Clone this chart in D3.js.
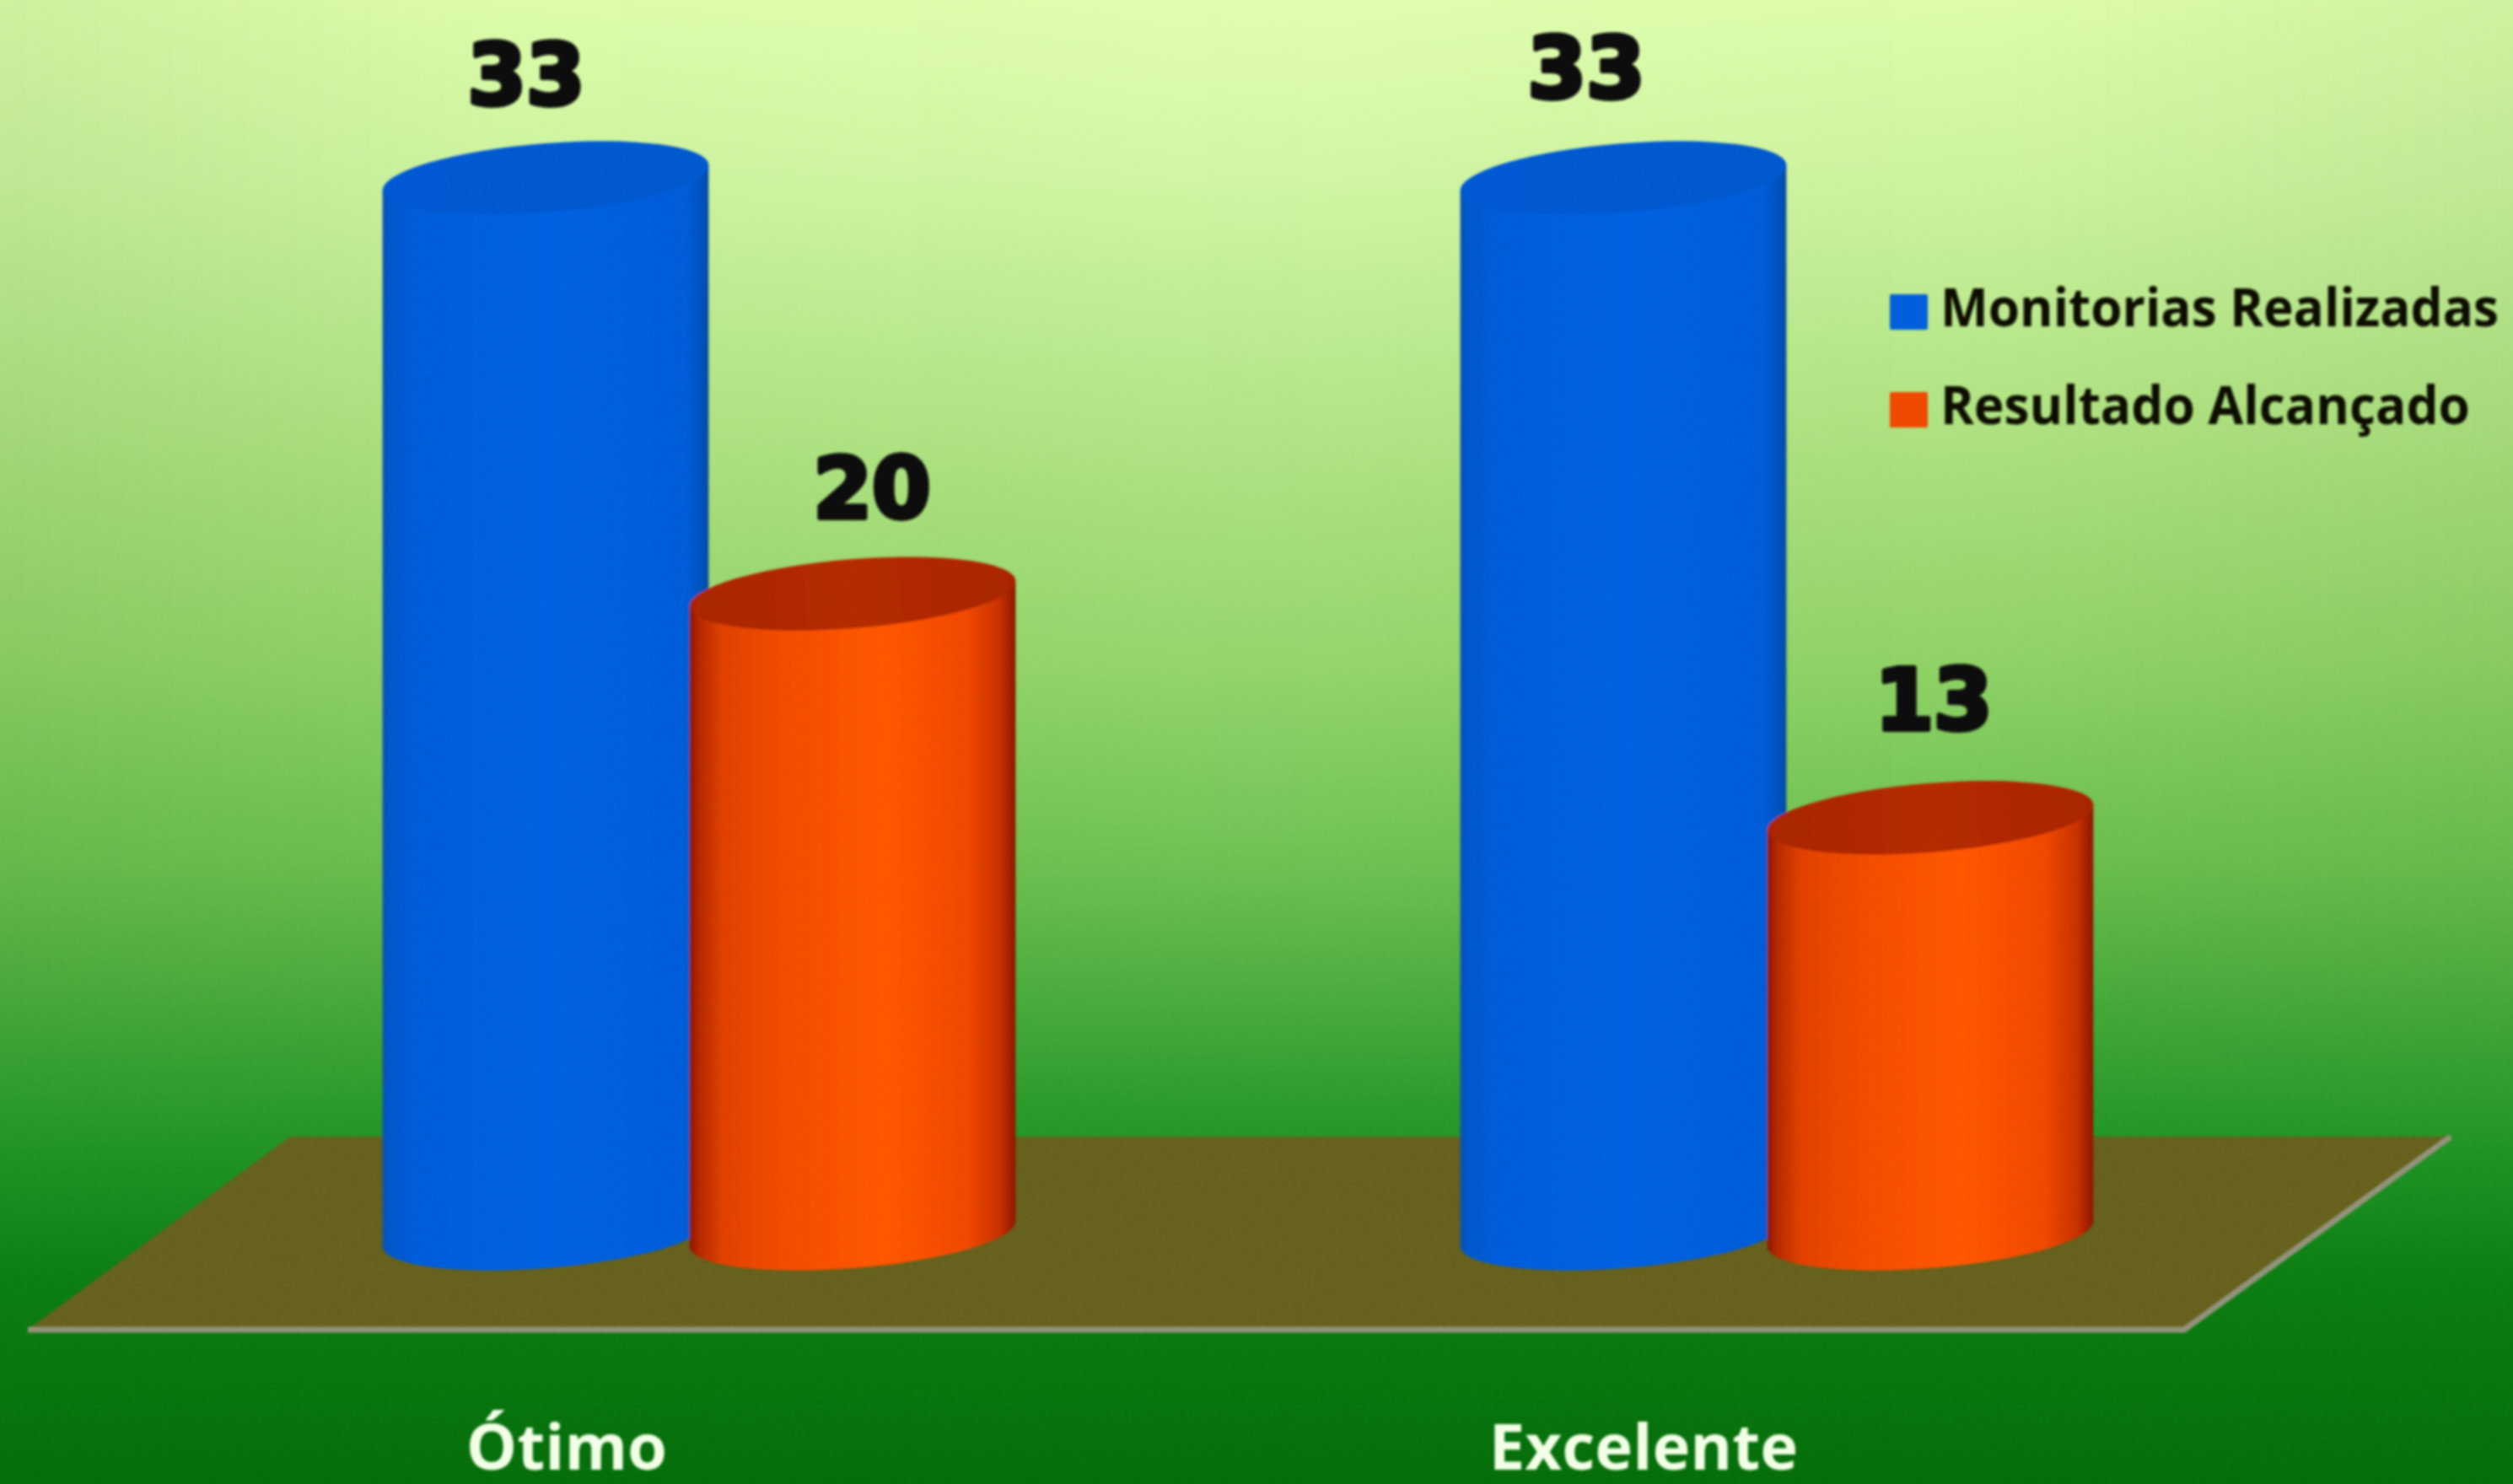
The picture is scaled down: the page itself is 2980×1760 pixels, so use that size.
<!DOCTYPE html>
<html><head><meta charset="utf-8">
<style>html,body{margin:0;padding:0;background:#0a7a10}svg{display:block}</style>
<script src="https://cdnjs.cloudflare.com/ajax/libs/d3/7.8.5/d3.min.js"></script>
</head><body>
<script>
const categories = ["Ótimo", "Excelente"];
const seriesNames = ["Monitorias Realizadas", "Resultado Alcançado"];
const monitorias = [33, 33];
const resultado = [20, 13];
const seriesValues = [monitorias, resultado];

const W = 2980, H = 1760;
const svg = d3.select("body").append("svg").attr("width", W).attr("height", H).attr("viewBox", `0 0 ${W} ${H}`);
const defs = svg.append("defs");

function grad(id, stops, vertical) {
  const g = defs.append("linearGradient").attr("id", id)
    .attr("x1", 0).attr("y1", 0).attr("x2", vertical ? 0 : 1).attr("y2", vertical ? 1 : 0);
  stops.forEach(([o, c, a]) => g.append("stop").attr("offset", o).attr("stop-color", c).attr("stop-opacity", a == null ? 1 : a));
}
grad("bg", [[0, "#e0ffac"], [0.12, "#d0f5a0"], [0.3, "#aee37f"], [0.45, "#8fd466"], [0.58, "#6cc04e"], [0.7, "#3ca434"], [0.78, "#1f9224"], [0.86, "#0b7d12"], [1, "#056c0a"]], true);
grad("edge", [[0, "#2e6a1a", 0.1], [0.2, "#2e6a1a", 0.02], [0.5, "#ffffff", 0.03], [0.8, "#2e6a1a", 0.02], [1, "#2e6a1a", 0.09]]);
grad("fadeV", [[0, "#fff"], [0.55, "#fff"], [0.8, "#000"], [1, "#000"]], true);
grad("body0", [[0, "#0a4fae"], [0.02, "#0257cc"], [0.1, "#005bd8"], [0.5, "#0060e0"], [0.93, "#005bd8"], [0.985, "#024fb8"], [1, "#0a4a9c"]]);
grad("body1", [[0, "#8a1600"], [0.03, "#b42800"], [0.1, "#e04000"], [0.3, "#f44c00"], [0.6, "#ff5600"], [0.85, "#f04800"], [0.95, "#c83000"], [1, "#8a1600"]]);
grad("top0", [[0, "#0059d2"], [1, "#0058ce"]]);
grad("top1", [[0, "#a82400"], [0.5, "#b42a00"], [1, "#a82400"]]);
const mask = defs.append("mask").attr("id", "bgmask");
mask.append("rect").attr("width", W).attr("height", H).attr("fill", "url(#fadeV)");
const soft = defs.append("filter").attr("id", "soft").attr("x", "-5%").attr("y", "-5%").attr("width", "110%").attr("height", "110%");
soft.append("feGaussianBlur").attr("stdDeviation", 1.8);
const grain = defs.append("filter").attr("id", "grain").attr("x", 0).attr("y", 0).attr("width", "100%").attr("height", "100%");
grain.append("feTurbulence").attr("type", "fractalNoise").attr("baseFrequency", "0.18 0.3").attr("numOctaves", 2).attr("seed", 4);
grain.append("feColorMatrix").attr("type", "matrix").attr("values", "0 0 0 0 0.5  0 0 0 0 0.5  0 0 0 0 0.5  0.9 0 0 0 -0.32");

svg.append("rect").attr("width", W).attr("height", H).attr("fill", "url(#bg)");
svg.append("rect").attr("width", W).attr("height", H).attr("fill", "url(#edge)").attr("mask", "url(#bgmask)");

// scales
const yScale = d3.scaleLinear().domain([0, 33]).range([1463, 211]);
const xGroup = d3.scaleBand().domain(categories).range([465, 3021]);
const xSeries = d3.scaleBand().domain(d3.range(seriesNames.length)).range([0, 728]);

// floor of the 3D plot
const floorLine = d3.line();
const floorTop = yScale(0) - 115, floorBottom = yScale(0) + 114;
svg.append("path")
  .attr("d", floorLine([[344, floorTop], [2906, floorTop], [2590, floorBottom], [33, floorBottom]]) + "Z")
  .attr("fill", "#65601c").attr("filter", "url(#soft)");
svg.append("path")
  .attr("d", floorLine([[344, floorTop], [2906, floorTop]]))
  .attr("fill", "none").attr("stroke", "#77723c").attr("stroke-width", 3).attr("filter", "url(#soft)");
svg.append("path")
  .attr("d", floorLine([[33, floorBottom], [2590, floorBottom], [2906, floorTop]]))
  .attr("fill", "none").attr("stroke", "#92927a").attr("stroke-width", 7).attr("filter", "url(#soft)");

// cylinders
const a = 194, b = 41, tilt = 4.6, rad = tilt * Math.PI / 180;
const dx = a * Math.cos(rad), dy = a * Math.sin(rad);
const bars = [];
seriesValues.forEach((vals, s) => vals.forEach((v, c) => bars.push({ s, c, v, cx: xGroup(categories[c]) + xSeries(s) + xSeries.bandwidth() / 2 })));

const g = svg.append("g").attr("filter", "url(#soft)");
const marks = g.selectAll("g.cyl").data(bars).join("g").attr("class", "cyl");
marks.append("path")
  .attr("d", d => {
    const yt = yScale(d.v), yb = yScale(0);
    return `M${d.cx - dx},${yt + dy}L${d.cx - dx},${yb + dy}` +
      `A${a},${b} ${-tilt} 0 0 ${d.cx + dx},${yb - dy}L${d.cx + dx},${yt - dy}Z`;
  })
  .attr("fill", d => `url(#body${d.s})`);
marks.append("ellipse")
  .attr("rx", a).attr("ry", b)
  .attr("transform", d => `translate(${d.cx},${yScale(d.v)}) rotate(${-tilt})`)
  .attr("fill", d => `url(#top${d.s})`);

// paper grain over everything drawn so far
svg.append("rect").attr("width", W).attr("height", H).attr("filter", "url(#grain)").attr("opacity", 0.16).style("mix-blend-mode", "overlay");

// value labels
const labelShiftX = [[-23, -44], [23, 4]];
const labelShiftY = [[-87, -95], [-90, -105]];
svg.append("g").attr("filter", "url(#soft)").selectAll("text").data(bars).join("text")
  .attr("x", d => d.cx + labelShiftX[d.s][d.c])
  .attr("y", d => yScale(d.v) + labelShiftY[d.s][d.c])
  .attr("text-anchor", "middle")
  .attr("font-family", "'DejaVu Sans'").attr("font-weight", 700).attr("font-size", 100)
  .attr("fill", "#0a0a0a").attr("stroke", "#0a0a0a").attr("stroke-width", 6).attr("stroke-linejoin", "round")
  .text(d => d.v);

// category labels
const catCentre = [672, 1949];
svg.append("g").attr("filter", "url(#soft)").selectAll("text").data(categories).join("text")
  .attr("x", (d, i) => catCentre[i]).attr("y", 1743)
  .attr("text-anchor", "middle")
  .attr("font-family", "'Open Sans'").attr("font-weight", 700).attr("font-size", 76)
  .attr("fill", "#f2ffe6")
  .text(d => d);

// legend
const legendColors = ["#0060dc", "#f04a00"];
const legendLengths = [662, 628];
const legend = svg.append("g").attr("filter", "url(#soft)").selectAll("g").data(seriesNames).join("g")
  .attr("transform", (d, i) => `translate(2241,${349 + i * 116})`);
legend.append("rect").attr("width", 45).attr("height", 42).attr("rx", 2).attr("fill", (d, i) => legendColors[i]);
legend.append("text").attr("x", 60).attr("y", 38)
  .attr("font-family", "'Open Sans'").attr("font-weight", 700).attr("font-size", 62)
  .attr("textLength", (d, i) => legendLengths[i]).attr("lengthAdjust", "spacingAndGlyphs")
  .attr("fill", "#0a0f05")
  .text(d => d);
</script>
</body></html>
